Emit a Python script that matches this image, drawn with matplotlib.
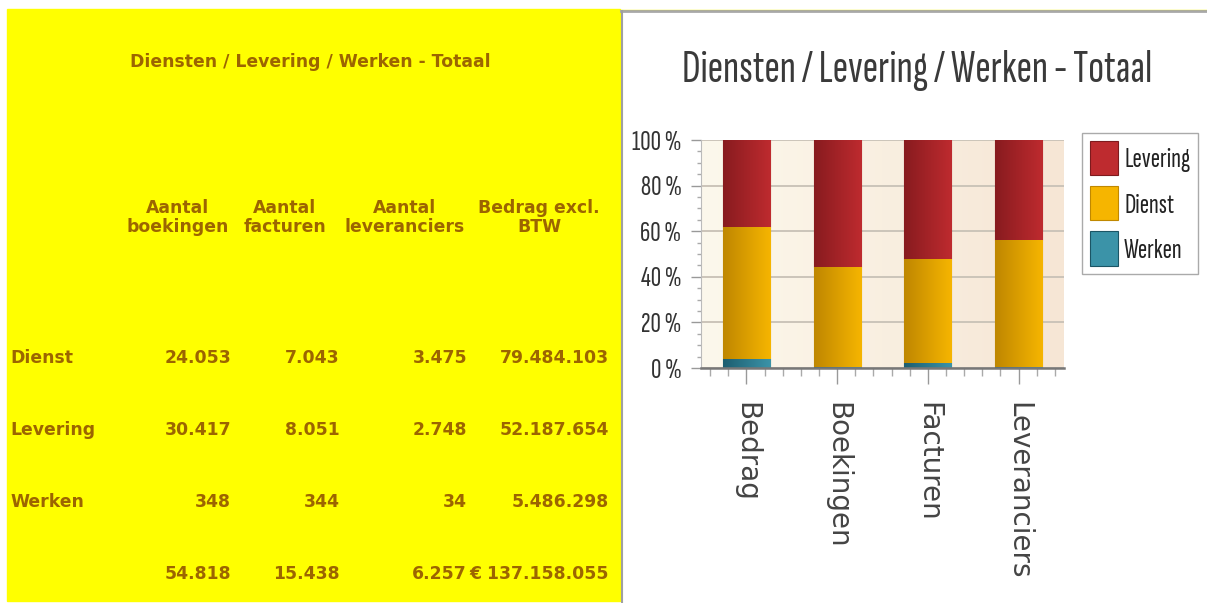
import matplotlib.pyplot as plt
import numpy as np
from matplotlib import font_manager
from matplotlib.colors import LinearSegmentedColormap
from matplotlib.patches import Rectangle
from matplotlib.lines import Line2D
from matplotlib.ticker import MultipleLocator, FuncFormatter

# Table data
title = 'Diensten / Levering / Werken - Totaal'
row_labels = ['Dienst', 'Levering', 'Werken']
col_headers = [('Aantal', 'boekingen'), ('Aantal', 'facturen'),
               ('Aantal', 'leveranciers'), ('Bedrag excl.', 'BTW')]
boekingen = [24053, 30417, 348]
facturen = [7043, 8051, 344]
leveranciers = [3475, 2748, 34]
bedrag = [79484103, 52187654, 5486298]

# Chart categories (same numbers, other order)
categories = ['Bedrag', 'Boekingen', 'Facturen', 'Leveranciers']
series_names = ['Werken', 'Dienst', 'Levering']  # bottom to top

W, H = 1207, 603
fig = plt.figure(figsize=(W / 100, H / 100), dpi=100)

# pick a narrow font for the chart side, if one is there
avail = {f.name for f in font_manager.fontManager.ttflist}
cands = ['Sofia Sans Extra Condensed', 'Saira Extra Condensed', 'Roboto Condensed',
         'Barlow Condensed', 'PT Sans Narrow', 'Archivo Narrow',
         'Liberation Sans Narrow', 'DejaVu Sans']
narrow = [next(c for c in cands if c in avail or c == 'DejaVu Sans'), 'DejaVu Sans']


def fx(px):
    return px / W


def fy(py):
    return 1 - py / H


def fmt(v):
    return f'{v:,}'.replace(',', '.')


def fit_size(s, family, target_px, base=20.0):
    t = fig.text(0, 0, s, fontsize=base, family=family)
    w = t.get_window_extent(fig.canvas.get_renderer()).width
    t.remove()
    return base * target_px / w


# ---------- left: yellow table ----------
fig.patches.append(Rectangle((fx(7), fy(601)), fx(613), (601 - 9) / H,
                             transform=fig.transFigure, color='#FFFF00', zorder=0))
tc = '#9C6500'
tkw = dict(color=tc, fontsize=12.4, fontweight='bold', family='DejaVu Sans', va='baseline')
fig.text(fx(310), fy(67), title, ha='center', **tkw)

head_x = [178, 285, 405, 539]
for (l1, l2), x in zip(col_headers, head_x):
    fig.text(fx(x), fy(213), l1, ha='center', **tkw)
    fig.text(fx(x), fy(232), l2, ha='center', **tkw)

cols = [boekingen, facturen, leveranciers, bedrag]
right_x = [231, 340, 467, 609]
row_y = [363, 435, 507]
for i, lab in enumerate(row_labels):
    fig.text(fx(10), fy(row_y[i]), lab, ha='left', **tkw)
    for col, x in zip(cols, right_x):
        fig.text(fx(x), fy(row_y[i]), fmt(col[i]), ha='right', **tkw)
for j, (col, x) in enumerate(zip(cols, right_x)):
    s = fmt(sum(col))
    if j == 3:
        s = '€ ' + s
    fig.text(fx(x), fy(579), s, ha='right', **tkw)

# ---------- right: chart panel ----------
fig.add_artist(Line2D([fx(620), 1], [fy(9.5), fy(9.5)], color='#F0F000', lw=1))
fig.add_artist(Line2D([fx(621), 1], [fy(11), fy(11)], color='#A8A8A8', lw=2))
fig.add_artist(Line2D([fx(621.5), fx(621.5)], [0, fy(11)], color='#A0A0A0', lw=1.5))

title_size = fit_size(title, narrow, 470)
fig.text(fx(917), fy(82), title, ha='center', va='baseline', fontsize=title_size,
         family=narrow, color='#3a3a3a')

ax = fig.add_axes([fx(701), fy(368), (1064 - 701) / W, (368 - 140) / H])

# shares per category
werken = [bedrag[2], boekingen[2], facturen[2], leveranciers[2]]
dienst = [bedrag[0], boekingen[0], facturen[0], leveranciers[0]]
levering = [bedrag[1], boekingen[1], facturen[1], leveranciers[1]]
tot = np.array(werken) + np.array(dienst) + np.array(levering)
shares = [np.array(werken) / tot * 100, np.array(dienst) / tot * 100,
          np.array(levering) / tot * 100]

colors = {'Werken': ('#1C5E70', '#3B93A8', '#1B5565'),
          'Dienst': ('#BF8700', '#F6B500', '#C08800'),
          'Levering': ('#881B1F', '#BE2B2F', '#7E1A1D')}

x = np.arange(len(categories))
bottom = np.zeros(len(categories))
handles = {}
grad = np.linspace(0, 1, 64).reshape(1, -1)
for name, vals in zip(series_names, shares):
    c0, c1, ec = colors[name]
    bars = ax.bar(x, vals, 0.52, bottom=bottom, color=c1, edgecolor=ec,
                  linewidth=0.8, zorder=2, label=name)
    cmap = LinearSegmentedColormap.from_list(name, [c0, c1])
    for p in bars.patches:
        x0, y0 = p.get_x(), p.get_y()
        im = ax.imshow(grad, cmap=cmap, aspect='auto', zorder=2.5,
                       extent=(x0, x0 + p.get_width(), y0, y0 + p.get_height()))
        im.set_clip_path(p)
    handles[name] = bars
    bottom += vals

# background gradient
bg = LinearSegmentedColormap.from_list('bg', ['#FCF8EC', '#F6E6D5'])
ax.imshow(np.linspace(0, 1, 128).reshape(1, -1), cmap=bg, aspect='auto',
          extent=(0, 1, 0, 1), transform=ax.transAxes, zorder=0)

tick_size = fit_size('100 %', narrow, 50)
ax.set_xlim(-0.5, 3.5)
ax.set_ylim(0, 100)
ax.set_xticks(x)
ax.set_xticklabels(categories, rotation=-90, fontsize=20, family='DejaVu Sans',
                   color='#444444')
ax.xaxis.set_minor_locator(MultipleLocator(0.2))
ax.yaxis.set_major_locator(MultipleLocator(20))
ax.yaxis.set_minor_locator(MultipleLocator(5))
ax.yaxis.set_major_formatter(FuncFormatter(lambda v, p: f'{v:.0f} %'))
for lab in ax.get_yticklabels():
    lab.set_family(narrow)
ax.tick_params(axis='y', which='major', length=7, width=1, color='#999999',
               labelsize=tick_size, labelcolor='#333333', pad=7)
ax.tick_params(axis='y', which='minor', length=3, width=1, color='#aaaaaa')
ax.tick_params(axis='x', which='major', length=11.5, width=1, color='#999999', pad=13)
ax.tick_params(axis='x', which='minor', length=5.5, width=1, color='#aaaaaa')
ax.grid(axis='y', color='#CBC4B9', lw=1.4, zorder=1)
ax.set_axisbelow(True)
for s in ['top', 'right']:
    ax.spines[s].set_visible(False)
ax.spines['left'].set_color('#bbbbbb')
ax.spines['bottom'].set_color('#777777')
ax.spines['bottom'].set_linewidth(1.8)

leg_size = fit_size('Levering', narrow, 66)
em = leg_size * 100 / 72  # font size in pixels
leg = ax.legend([handles[n] for n in ['Levering', 'Dienst', 'Werken']],
                ['Levering', 'Dienst', 'Werken'],
                loc='upper left', bbox_to_anchor=(fx(1082), fy(133)),
                bbox_transform=fig.transFigure, prop={'family': narrow, 'size': leg_size},
                handlelength=28 / em, handleheight=42 / em, handletextpad=6 / em,
                labelspacing=11 / em, borderpad=8 / em, borderaxespad=0,
                frameon=True, fancybox=False, edgecolor='#aaaaaa', framealpha=1)
for t in leg.get_texts():
    t.set_color('#222222')

plt.savefig('out.png', dpi=100)
plt.close()
